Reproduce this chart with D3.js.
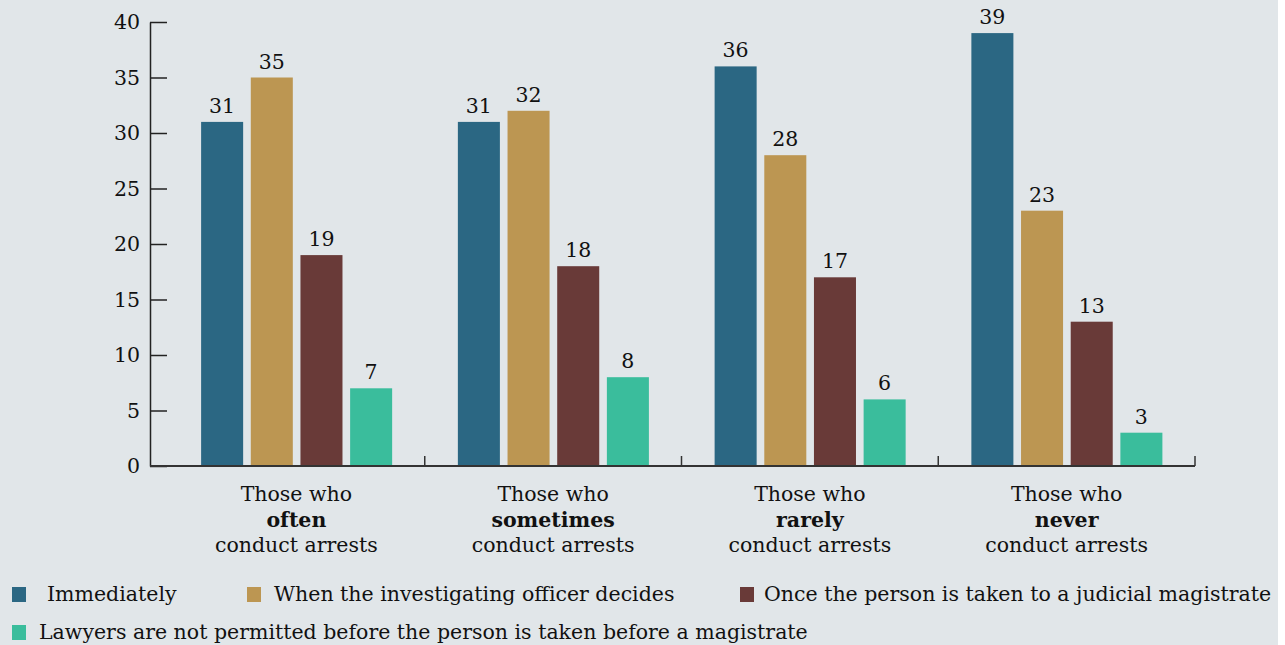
<!DOCTYPE html>
<html>
<head>
<meta charset="utf-8">
<script src="https://cdn.jsdelivr.net/npm/d3@7"></script>
<style>
  html, body { margin: 0; padding: 0; background: #ffffff; }
  svg { display: block; }
  text { font-family: "DejaVu Serif", Georgia, serif; fill: #111; }
</style>
</head>
<body>
<svg id="chart" width="1285" height="645"></svg>
<script>
// Groups of respondents (middle word is set in bold)
const groupLead = ["Those who", "Those who", "Those who", "Those who"];
const groupKey = ["often", "sometimes", "rarely", "never"];
const groupTail = ["conduct arrests", "conduct arrests", "conduct arrests", "conduct arrests"];

// Series: when a lawyer may first meet the arrested person
const seriesNames = [
  "Immediately",
  "When the investigating officer decides",
  "Once the person is taken to a judicial magistrate",
  "Lawyers are not permitted before the person is taken before a magistrate"
];
const seriesColors = ["#2b6783", "#bc9652", "#693a38", "#3abd9c"];

// Values per series, in group order (often, sometimes, rarely, never)
const immediately = [31, 31, 36, 39];
const officerDecides = [35, 32, 28, 23];
const judicialMagistrate = [19, 18, 17, 13];
const notPermitted = [7, 8, 6, 3];
const seriesValues = [immediately, officerDecides, judicialMagistrate, notPermitted];

const yTicks = [0, 5, 10, 15, 20, 25, 30, 35, 40];

const FS = 20.5;
const svg = d3.select("#chart");

// panel background
svg.append("rect").attr("x", 0).attr("y", 0).attr("width", 1278).attr("height", 645).attr("fill", "#e1e6e9");

const y = d3.scaleLinear().domain([0, 40]).range([466, 22]);
const x0 = d3.scaleBand().domain(groupKey).range([168, 1195]).padding(0);
const bw = x0.bandwidth();
const x1 = d3.scaleBand().domain(seriesNames).range([bw * 0.129, bw * 0.873]).paddingInner(0.154);

// y axis, ticks pointing inward
const yAxis = svg.append("g")
  .attr("transform", "translate(150,0)")
  .call(d3.axisLeft(y).tickValues(yTicks).tickSize(-17).tickPadding(10).tickSizeOuter(0));
yAxis.select(".domain").attr("stroke", "#222").attr("stroke-width", 1.5);
yAxis.selectAll(".tick line").attr("stroke", "#222").attr("stroke-width", 1.5);
yAxis.selectAll(".tick text")
  .attr("font-family", "\"DejaVu Serif\", serif").attr("font-size", FS).attr("fill", "#111");

// bars
const groups = svg.append("g").selectAll("g")
  .data(groupKey)
  .join("g")
  .attr("transform", d => `translate(${x0(d)},0)`);

groups.each(function(g, gi) {
  const sel = d3.select(this);
  const rows = seriesNames.map((s, si) => ({ s, si, v: seriesValues[si][gi] }));
  sel.selectAll("rect")
    .data(rows)
    .join("rect")
    .attr("x", d => x1(d.s))
    .attr("y", d => y(d.v))
    .attr("width", x1.bandwidth())
    .attr("height", d => y(0) - y(d.v))
    .attr("fill", d => seriesColors[d.si]);
  sel.selectAll("text.val")
    .data(rows)
    .join("text")
    .attr("class", "val")
    .attr("x", d => x1(d.s) + x1.bandwidth() / 2)
    .attr("y", d => y(d.v) - 9)
    .attr("text-anchor", "middle")
    .attr("font-size", FS)
    .text(d => d.v);
});

// x axis baseline with upward ticks at group boundaries
svg.append("line")
  .attr("x1", 150).attr("x2", 1195).attr("y1", y(0)).attr("y2", y(0))
  .attr("stroke", "#333").attr("stroke-width", 2);
const bounds = groupKey.map(d => x0(d) + bw);
svg.append("g").selectAll("line")
  .data(bounds)
  .join("line")
  .attr("x1", d => d).attr("x2", d => d)
  .attr("y1", y(0)).attr("y2", y(0) - 10)
  .attr("stroke", "#333").attr("stroke-width", 1.5);

// category labels
const cat = svg.append("g").selectAll("text")
  .data(groupKey)
  .join("text")
  .attr("text-anchor", "middle")
  .attr("font-size", FS);
cat.append("tspan").attr("x", d => x0(d) + bw / 2).attr("y", 501).text((d, i) => groupLead[i]);
cat.append("tspan").attr("x", d => x0(d) + bw / 2).attr("y", 527).attr("font-weight", "bold").text(d => d);
cat.append("tspan").attr("x", d => x0(d) + bw / 2).attr("y", 552).text((d, i) => groupTail[i]);

// legend
const legendPos = [
  { sx: 12, tx: 47, y: 594 },
  { sx: 247, tx: 274, y: 594 },
  { sx: 740, tx: 764, y: 594 },
  { sx: 12, tx: 39, y: 632 }
];
const legend = svg.append("g").selectAll("g")
  .data(seriesNames)
  .join("g");
legend.append("rect")
  .attr("x", (d, i) => legendPos[i].sx)
  .attr("y", (d, i) => legendPos[i].y - 7)
  .attr("width", 14).attr("height", 15)
  .attr("fill", (d, i) => seriesColors[i]);
legend.append("text")
  .attr("x", (d, i) => legendPos[i].tx)
  .attr("y", (d, i) => legendPos[i].y + 7)
  .attr("font-size", FS)
  .text(d => d);
</script>
</body>
</html>
